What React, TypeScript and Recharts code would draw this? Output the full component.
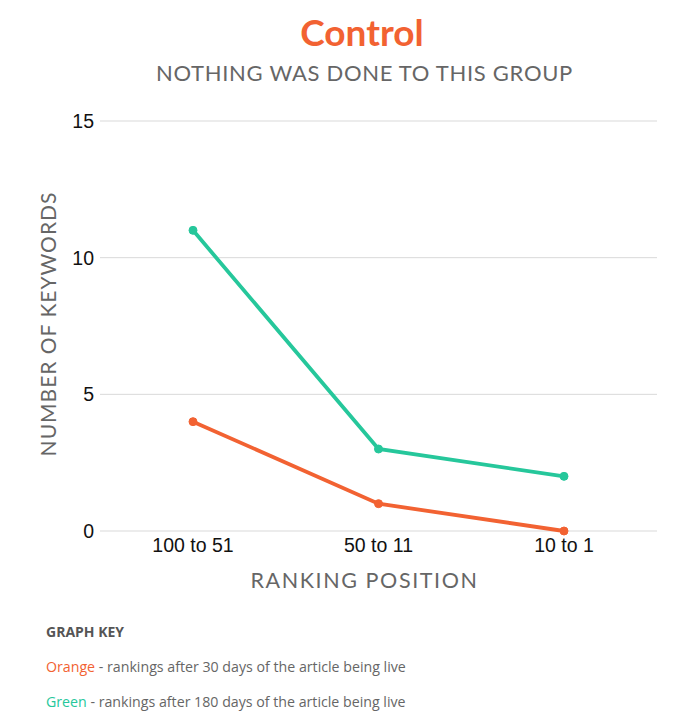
import React from "react";
import { LineChart, Line, XAxis, YAxis, CartesianGrid } from "recharts";

const categories = ["100 to 51", "50 to 11", "10 to 1"];
const after30Days = [4, 1, 0];
const after180Days = [11, 3, 2];
const yTicks = [0, 5, 10, 15];

const ORANGE = "#f26232";
const GREEN = "#26c79b";
const GREY = "#666666";

const data = categories.map((name, i) => ({
  name,
  d30: after30Days[i],
  d180: after180Days[i],
}));

const tickStyle = { fill: "#111", fontSize: 19.5, fontFamily: "Liberation Sans, Arial, sans-serif" };

export default function App() {
  return (
    <div
      style={{
        position: "absolute",
        left: 0,
        top: 0,
        width: 700,
        height: 725,
        background: "#ffffff",
        fontFamily: "Lato, sans-serif",
      }}
    >
      <div
        style={{
          position: "absolute",
          top: 10,
          left: 0,
          width: 724,
          textAlign: "center",
          color: ORANGE,
          fontWeight: 700,
          fontSize: 37,
          lineHeight: "44px",
        }}
      >
        Control
      </div>
      <div
        style={{
          position: "absolute",
          top: 59,
          left: 0,
          width: 729,
          textAlign: "center",
          color: GREY,
          fontSize: 22,
          letterSpacing: 0.7,
          lineHeight: "28px",
        }}
      >
        NOTHING WAS DONE TO THIS GROUP
      </div>
      <div style={{ position: "absolute", top: 0, left: 0 }}>
        <LineChart
          width={700}
          height={725}
          data={data}
          margin={{ top: 121, right: 43, left: 40, bottom: 164 }}
        >
          <CartesianGrid vertical={false} stroke="#d9d9d9" />
          <XAxis
            dataKey="name"
            axisLine={false}
            tickLine={false}
            tickMargin={1}
            height={30}
            padding={{ left: 93, right: 93 }}
            tick={tickStyle}
            label={{
              value: "RANKING POSITION",
              position: "insideBottom",
              dx: -14,
              dy: 32,
              fill: GREY,
              fontSize: 21.5,
              letterSpacing: 1.6,
              fontFamily: "Lato, sans-serif",
            }}
          />
          <YAxis
            domain={[0, 15]}
            ticks={yTicks}
            width={60}
            axisLine={false}
            tickLine={false}
            tickSize={4}
            tickMargin={2}
            tick={tickStyle}
            label={{
              value: "NUMBER OF KEYWORDS",
              angle: -90,
              position: "insideLeft",
              dx: 4,
              dy: -2,
              fill: GREY,
              fontSize: 21,
              letterSpacing: 1,
              fontFamily: "Lato, sans-serif",
              style: { textAnchor: "middle" },
            }}
          />
          <Line
            type="linear"
            dataKey="d180"
            stroke={GREEN}
            strokeWidth={3.8}
            dot={{ r: 4, fill: GREEN, stroke: GREEN, strokeWidth: 1 }}
            isAnimationActive={false}
          />
          <Line
            type="linear"
            dataKey="d30"
            stroke={ORANGE}
            strokeWidth={3.8}
            dot={{ r: 4, fill: ORANGE, stroke: ORANGE, strokeWidth: 1 }}
            isAnimationActive={false}
          />
        </LineChart>
      </div>
      <div
        style={{
          position: "absolute",
          left: 46,
          top: 623,
          color: "#555",
          fontSize: 14,
          fontWeight: 700,
          lineHeight: "18px",
          fontFamily: "'Open Sans', sans-serif",
        }}
      >
        GRAPH KEY
      </div>
      <div
        style={{
          position: "absolute",
          left: 46,
          top: 658,
          color: GREY,
          fontSize: 14.2,
          lineHeight: "18px",
          fontFamily: "'Open Sans', sans-serif",
        }}
      >
        <span style={{ color: ORANGE }}>Orange</span> - rankings after 30 days of the article being live
      </div>
      <div
        style={{
          position: "absolute",
          left: 46,
          top: 693,
          color: GREY,
          fontSize: 14.2,
          lineHeight: "18px",
          fontFamily: "'Open Sans', sans-serif",
        }}
      >
        <span style={{ color: GREEN }}>Green</span> - rankings after 180 days of the article being live
      </div>
    </div>
  );
}
